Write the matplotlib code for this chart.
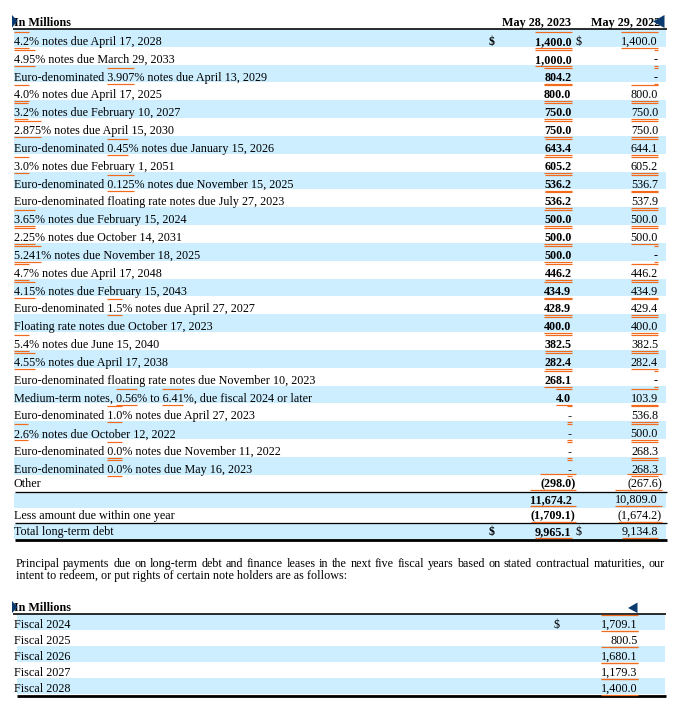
import re
import matplotlib
matplotlib.use("Agg")
import matplotlib.pyplot as plt
from matplotlib.patches import Rectangle, Polygon

# ---------------- data ----------------
labels = [
    "4.2% notes due April 17, 2028",
    "4.95% notes due March 29, 2033",
    "Euro-denominated 3.907% notes due April 13, 2029",
    "4.0% notes due April 17, 2025",
    "3.2% notes due February 10, 2027",
    "2.875% notes due April 15, 2030",
    "Euro-denominated 0.45% notes due January 15, 2026",
    "3.0% notes due February 1, 2051",
    "Euro-denominated 0.125% notes due November 15, 2025",
    "Euro-denominated floating rate notes due July 27, 2023",
    "3.65% notes due February 15, 2024",
    "2.25% notes due October 14, 2031",
    "5.241% notes due November 18, 2025",
    "4.7% notes due April 17, 2048",
    "4.15% notes due February 15, 2043",
    "Euro-denominated 1.5% notes due April 27, 2027",
    "Floating rate notes due October 17, 2023",
    "5.4% notes due June 15, 2040",
    "4.55% notes due April 17, 2038",
    "Euro-denominated floating rate notes due November 10, 2023",
    "Medium-term notes, 0.56% to 6.41%, due fiscal 2024 or later",
    "Euro-denominated 1.0% notes due April 27, 2023",
    "2.6% notes due October 12, 2022",
    "Euro-denominated 0.0% notes due November 11, 2022",
    "Euro-denominated 0.0% notes due May 16, 2023",
    "Other",
    "",
    "Less amount due within one year",
    "Total long-term debt",
]
v2023 = [1400.0, 1000.0, 804.2, 800.0, 750.0, 750.0, 643.4, 605.2, 536.2, 536.2,
         500.0, 500.0, 500.0, 446.2, 434.9, 428.9, 400.0, 382.5, 282.4, 268.1,
         4.0, None, None, None, None, -298.0, 11674.2, -1709.1, 9965.1]
v2022 = [1400.0, None, None, 800.0, 750.0, 750.0, 644.1, 605.2, 536.7, 537.9,
         500.0, 500.0, None, 446.2, 434.9, 429.4, 400.0, 382.5, 282.4, None,
         103.9, 536.8, 500.0, 268.3, 268.3, -267.6, 10809.0, -1674.2, 9134.8]
col_headers = ["May 28, 2023", "May 29, 2022"]
unit_label = "In Millions"
dollar_rows = [0, 28]

paragraph_line1 = ("Principal payments due on long-term debt and finance leases in the next "
                   "five fiscal years based on stated contractual maturities, our")
paragraph_line2 = "intent to redeem, or put rights of certain note holders are as follows:"

fiscal_years = ["Fiscal 2024", "Fiscal 2025", "Fiscal 2026", "Fiscal 2027", "Fiscal 2028"]
payments = [1709.1, 800.5, 1680.1, 1179.3, 1400.0]

# ---------------- style ----------------
W, H = 681, 702
BAND = "#CCEEFF"
ORANGE = "#F26B1D"
NAVY = "#0B3A6E"
FONT = "Liberation Serif"
FS = 8.75
PX = 0.72  # points per pixel at dpi 100

plt.rcParams["font.family"] = [FONT, "DejaVu Serif"]
fig = plt.figure(figsize=(W / 100, H / 100), dpi=100)
ax = fig.add_axes([0, 0, 1, 1])
ax.set_xlim(0, W)
ax.set_ylim(H, 0)
ax.axis("off")


def fmt(v):
    if v is None:
        return "-"
    s = f"{abs(v):,.1f}"
    return f"({s})" if v < 0 else s


# row geometry of the main table
RH = 17.83
tops, bots, bases = [], [], []
for i in range(25):
    t = 29 + RH * i
    tops.append(t)
    bots.append(t + RH)
    bases.append(t + 16)
for t, b, bl in [(476, 491.5, 487), (492.5, 507.5, 503), (508, 523, 519), (524, 539, 535)]:
    tops.append(t); bots.append(b); bases.append(bl)

LX = 13.5
C1_DOLLAR = 489
C1_RIGHT = 571.5
C2_DOLLAR = 575.5
C2_RIGHT = 658

# bands
for i in range(len(labels)):
    if i % 2 == 0:
        ax.add_patch(Rectangle((14, tops[i]), 652, bots[i] - tops[i], color=BAND, lw=0, zorder=0))

# header
ax.text(LX, 26, unit_label, fontsize=FS, fontweight="bold", va="baseline", ha="left")
ax.text(C1_RIGHT, 26, col_headers[0], fontsize=FS, fontweight="bold", va="baseline", ha="right")
ax.text(C2_RIGHT + 2, 26, col_headers[1], fontsize=FS, fontweight="bold", va="baseline", ha="right")
ax.plot([13, 667], [28.5, 28.5], color="black", lw=1.6 * PX, solid_capstyle="butt")

label_texts = []
value_texts = []
for i, lab in enumerate(labels):
    bl = bases[i]
    t = ax.text(LX, bl, lab, fontsize=FS, va="baseline", ha="left")
    label_texts.append((t, lab, bl))
    for col, (vals, right, bold) in enumerate([(v2023, C1_RIGHT, True), (v2022, C2_RIGHT, False)]):
        v = vals[i]
        s = fmt(v)
        x = right + (4 if (v is not None and v < 0) else 0)
        tv = ax.text(x, bl, s, fontsize=FS, va="baseline", ha="right",
                     fontweight="bold" if bold else "normal")
        value_texts.append((tv, bl))
    if i in dollar_rows:
        ax.text(C1_DOLLAR, bl, "$", fontsize=FS, fontweight="bold", va="baseline", ha="left")
        ax.text(C2_DOLLAR, bl, "$", fontsize=FS, va="baseline", ha="left")

# rules
ax.plot([15, 667], [491.8, 491.8], color="black", lw=1.3 * PX, solid_capstyle="butt")
ax.plot([15, 667], [523.3, 523.3], color="black", lw=1.3 * PX, solid_capstyle="butt")
ax.plot([15, 667], [540, 540], color="black", lw=2.8 * PX, solid_capstyle="butt")

fig.canvas.draw()
renderer = fig.canvas.get_renderer()
inv = ax.transData.inverted()


def measure(s, x=0, y=100):
    """Width in data (=pixel) units of a string drawn like the table text."""
    tmp = ax.text(x, y, s, fontsize=FS, va="baseline", ha="left")
    bb = tmp.get_window_extent(renderer)
    (xa, _), (xb, _) = inv.transform([(bb.x0, bb.y0), (bb.x1, bb.y1)])
    tmp.remove()
    return xa, xb


# paragraph (justified first line)
words = paragraph_line1.split(" ")
widths = []
for w in words:
    xa, xb = measure(w)
    widths.append(xb - xa)
x0, x1 = 15.5, 665
gap = (x1 - x0 - sum(widths)) / (len(words) - 1)
x = x0
for w, wd in zip(words, widths):
    ax.text(x, 567, w, fontsize=FS, va="baseline", ha="left")
    x += wd + gap
ax.text(x0, 579.5, paragraph_line2, fontsize=FS, va="baseline", ha="left")

# lower table
l_tops = [614, 630, 646, 662, 678]
l_bases = [628, 644, 660, 676, 692]
L_DOLLAR = 554
L_RIGHT = 637.5
ax.text(LX, 611, unit_label, fontsize=FS, fontweight="bold", va="baseline", ha="left")
ax.plot([13, 666], [613.5, 613.5], color="black", lw=1.6 * PX, solid_capstyle="butt")
for i, (fy, p) in enumerate(zip(fiscal_years, payments)):
    if i % 2 == 0:
        ax.add_patch(Rectangle((17, l_tops[i]), 648, 16, color=BAND, lw=0, zorder=0))
    ax.text(LX, l_bases[i], fy, fontsize=FS, va="baseline", ha="left")
    tv = ax.text(L_RIGHT, l_bases[i], fmt(p), fontsize=FS, va="baseline", ha="right")
    value_texts.append((tv, l_bases[i]))
    if i == 0:
        ax.text(L_DOLLAR, l_bases[i], "$", fontsize=FS, va="baseline", ha="left")
ax.plot([17, 666], [695.5, 695.5], color="black", lw=2.8 * PX, solid_capstyle="butt")

# markers
for pts in [[(12, 15), (17.5, 21), (12, 27.5)],
            [(664.5, 15), (653, 21.5), (664.5, 28)],
            [(12, 601), (17.5, 607), (12, 613)],
            [(637.5, 602.5), (628, 608), (637.5, 613)]]:
    ax.add_patch(Polygon(pts, closed=True, color=NAVY, lw=0, zorder=5))

# orange tag marks
fig.canvas.draw()


def orange(xa, xb, bl):
    for yy in (bl - 13, bl + 3):
        ax.plot([xa, xb], [yy, yy], color=ORANGE, lw=1.2 * PX, solid_capstyle="butt", zorder=4)


for tv, bl in value_texts:
    bb = tv.get_window_extent(renderer)
    (xa, _), (xb, _) = inv.transform([(bb.x0, bb.y0), (bb.x1, bb.y1)])
    orange(xa, xb, bl)

for t, lab, bl in label_texts:
    if not lab:
        continue
    for m in re.finditer(r"\d+\.\d+(?=%)", lab):
        _, xb = measure(lab[:m.end()], x=LX, y=bl)
        na, nb = measure(m.group(0))
        orange(xb - (nb - na), xb, bl)

fig.savefig("out.png", dpi=100)
